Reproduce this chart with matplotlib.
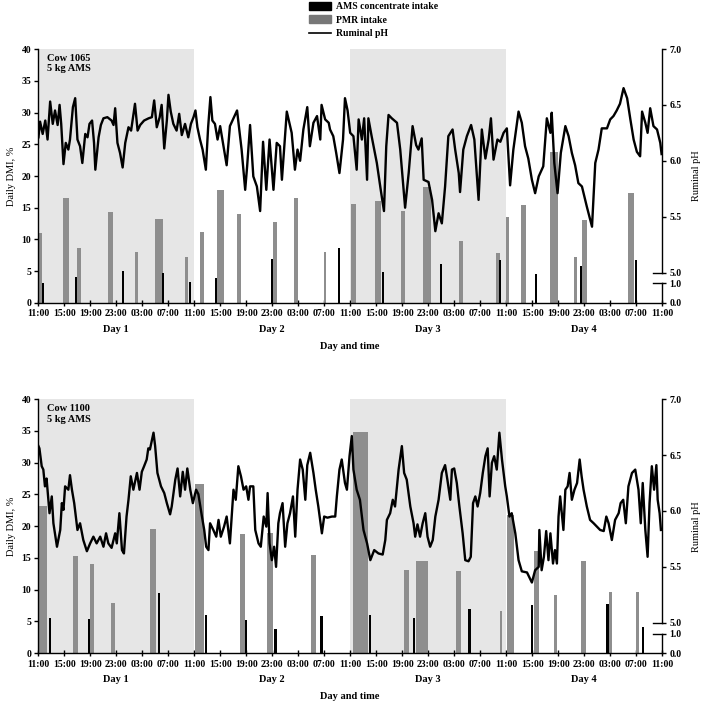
import matplotlib
matplotlib.use('Agg')
import matplotlib.pyplot as plt
from matplotlib.patches import Patch
from matplotlib.lines import Line2D

plt.rcParams['font.family'] = 'Liberation Serif'
plt.rcParams['font.weight'] = 'bold'
plt.rcParams['font.size'] = 7

# hours since 11:00 on day 1
time_labels = ['11:00', '15:00', '19:00', '23:00', '03:00', '07:00'] * 4 + ['11:00']
day_labels = ['Day 1', 'Day 2', 'Day 3', 'Day 4']
shaded = [(0, 24), (48, 72)]

# ---- cow 1065 ----
c1_pmr_start = [0.0, 3.8, 5.95, 10.7, 14.9, 18.0, 22.6, 24.9, 27.5, 30.6, 36.1, 39.3, 43.9,
                48.1, 51.8, 55.8, 59.2, 64.8, 70.5, 72.0, 74.2, 78.8, 82.5, 83.7, 90.8]
c1_pmr_end = [0.6, 4.7, 6.6, 11.5, 15.4, 19.2, 23.1, 25.5, 28.6, 31.2, 36.7, 40.0, 44.3,
              48.9, 52.7, 56.5, 60.5, 65.3, 71.1, 72.5, 75.0, 79.9, 82.9, 84.4, 91.7]
c1_pmr_val = [11.1, 16.5, 8.7, 14.3, 8.1, 13.2, 7.2, 11.2, 17.8, 14.0, 12.7, 16.6, 8.0,
              15.6, 16.1, 14.5, 18.3, 9.7, 7.8, 13.6, 15.4, 23.8, 7.3, 13.1, 17.3]
c1_ams_time = [0.8, 5.85, 13.0, 19.2, 23.4, 27.4, 35.95, 46.3, 53.1, 62.0, 71.0, 76.6, 83.5, 92.0]
c1_ams_val = [3.2, 4.1, 5.1, 4.7, 3.3, 4.0, 6.9, 8.6, 4.9, 6.1, 6.8, 4.5, 5.9, 6.8]
c1_ph_h = [0.05, 0.3, 0.7, 1.1, 1.45, 1.85, 2.25, 2.6, 3.0, 3.3, 3.55, 3.9, 4.25, 4.65, 4.9,
           5.35, 5.7, 6.05, 6.45, 6.8, 7.25, 7.6, 7.9, 8.3, 8.6, 8.8, 9.3, 9.65, 10.05, 10.65,
           11.3, 11.6, 11.85, 12.2, 12.6, 13.0, 13.4, 13.9, 14.3, 14.9, 15.3, 15.7, 16.3, 17.0,
           17.5, 17.85, 18.25, 18.7, 19.0, 19.4, 19.8, 20.05, 20.4, 20.8, 21.3, 21.7, 22.1,
           22.6, 23.1, 23.5, 23.9, 24.2, 24.5, 24.9, 25.3, 25.8, 26.15, 26.5, 26.8, 27.2, 27.6,
           28.0, 29.0, 29.5, 30.6, 31.3, 31.85, 32.15, 32.6, 33.1, 33.65, 34.15, 34.6, 35.1,
           35.6, 36.2, 36.7, 37.2, 37.5, 38.25, 39.0, 39.5, 39.9, 40.3, 40.8, 41.4, 41.8, 42.35,
           42.9, 43.4, 43.6, 44.15, 44.7, 44.9, 45.4, 45.85, 46.35, 46.9, 47.2, 47.6, 48.0,
           48.5, 49.0, 49.3, 49.8, 50.15, 50.6, 50.8, 51.3, 52.1, 52.7, 53.2, 53.55, 53.9,
           54.4, 55.2, 55.7, 56.45, 57.0, 57.6, 58.15, 58.5, 59.0, 59.3, 60.05, 60.6, 61.1,
           61.6, 62.1, 62.6, 63.1, 63.75, 64.15, 64.7, 64.9, 65.4, 65.95, 66.6, 67.1, 67.75,
           68.25, 68.8, 69.3, 69.65, 70.05, 70.65, 71.1, 71.6, 72.1, 72.6, 73.1, 73.9, 74.4,
           74.9, 75.4, 75.95, 76.45, 77.0, 77.7, 78.25, 78.8, 79.0, 79.4, 79.9, 80.4, 81.1,
           81.6, 82.1, 82.6, 83.1, 83.65, 84.4, 85.2, 85.7, 86.2, 86.7, 87.5, 88.0, 88.5,
           89.0, 89.5, 90.05, 90.6, 91.1, 91.6, 92.1, 92.6, 92.9, 93.4, 93.75, 94.15, 94.65,
           95.2, 95.7, 95.9]
c1_ph_v = [6.21, 6.35, 6.24, 6.36, 6.19, 6.53, 6.33, 6.45, 6.32, 6.50, 6.33, 5.97, 6.16, 6.10, 6.19,
           6.48, 6.56, 6.19, 6.13, 5.98, 6.24, 6.21, 6.33, 6.36, 6.16, 5.92, 6.21, 6.32, 6.38, 6.39,
           6.36, 6.32, 6.47, 6.16, 6.07, 5.94, 6.16, 6.30, 6.27, 6.51, 6.27, 6.32, 6.36, 6.38,
           6.39, 6.54, 6.30, 6.39, 6.50, 6.11, 6.36, 6.59, 6.44, 6.33, 6.27, 6.42, 6.23,
           6.33, 6.21, 6.33, 6.39, 6.45, 6.30, 6.19, 6.10, 5.92, 6.30, 6.57, 6.36, 6.33, 6.19,
           6.31, 5.96, 6.31, 6.45, 6.10, 5.74, 5.95, 6.32, 5.86, 5.77, 5.55, 6.17, 5.74,
           6.19, 5.74, 6.16, 6.13, 5.83, 6.44, 6.25, 5.92, 6.10, 6.00, 6.28, 6.48, 6.13, 6.34,
           6.40, 6.19, 6.50, 6.37, 6.34, 6.28, 6.22, 6.07, 5.89, 6.19, 6.56, 6.45, 6.25,
           6.22, 5.92, 6.37, 6.19, 6.38, 5.83, 6.38, 6.22, 5.98, 5.74, 5.55, 6.13, 6.41,
           6.38, 6.34, 6.10, 5.58, 5.89, 6.31, 6.14, 6.10, 6.20, 5.83, 5.81, 5.65, 5.37,
           5.53, 5.44, 5.77, 6.22, 6.28, 6.10, 5.89, 5.72, 6.10, 6.22, 6.32, 6.19, 5.65,
           6.28, 6.02, 6.19, 6.38, 6.01, 6.19, 6.17, 6.25, 6.29, 5.78, 6.10, 6.44, 6.34,
           6.13, 6.02, 5.83, 5.71, 5.86, 5.95, 6.38, 6.25, 6.43, 5.98, 5.71, 6.07, 6.31,
           6.22, 6.07, 5.96, 5.80, 5.77, 5.59, 5.41, 5.98, 6.10, 6.29, 6.29, 6.37, 6.40,
           6.45, 6.51, 6.65, 6.56, 6.37, 6.19, 6.08, 6.04, 6.44, 6.34, 6.25, 6.47, 6.31,
           6.28, 6.16, 6.06]

# ---- cow 1100 ----
c2_pmr_start = [0.15, 5.4, 8.0, 11.2, 17.2, 24.2, 31.0, 35.2, 42.0, 48.4, 56.3, 58.05, 64.3,
                71.1, 72.1, 76.2, 79.3, 83.5, 87.8, 91.95]
c2_pmr_end = [1.3, 6.1, 8.6, 11.8, 18.1, 25.5, 31.8, 36.2, 42.7, 50.7, 57.0, 60.0, 65.0,
              71.4, 73.2, 77.0, 79.8, 84.2, 88.3, 92.5]
c2_pmr_val = [23.2, 15.3, 14.1, 7.9, 19.6, 26.6, 18.7, 18.9, 15.4, 34.9, 13.1, 14.5, 12.9,
              6.6, 21.8, 16.1, 9.1, 14.5, 9.6, 9.6]
c2_ams_time = [1.85, 7.85, 18.6, 25.85, 32.0, 36.5, 43.6, 51.0, 57.85, 66.35, 75.95, 87.6, 93.0]
c2_ams_val = [5.6, 5.4, 9.5, 6.1, 5.2, 3.8, 5.9, 6.0, 5.6, 6.9, 7.6, 7.8, 4.2]
c2_ph_h = [0.05, 0.2, 0.55, 0.8, 1.05, 1.3, 1.75, 2.1, 2.35, 2.9, 3.4, 3.65, 3.9, 4.15, 4.65,
           4.9, 5.2, 5.55, 6.05, 6.45, 6.95, 7.5, 8.0, 8.5, 9.0, 9.55, 10.05, 10.45, 10.8, 11.3,
           11.85, 12.1, 12.5, 12.9, 13.2, 13.6, 13.9, 14.25, 14.65, 15.2, 15.6, 15.95, 16.3,
           16.7, 16.95, 17.2, 17.75, 18.0, 18.35, 18.9, 19.4, 19.8, 20.3, 20.55, 21.1, 21.45,
           21.85, 22.25, 22.6, 22.95, 23.4, 23.8, 24.3, 24.65, 25.2, 25.55, 25.85, 26.2, 26.45,
           26.95, 27.4, 27.75, 28.1, 28.6, 29.0, 29.5, 30.05, 30.4, 30.8, 31.2, 31.6, 32.0,
           32.35, 32.6, 33.1, 33.4, 33.9, 34.25, 34.7, 35.1, 35.3, 35.6, 35.95, 36.3, 36.6,
           36.95, 37.2, 37.6, 38.0, 38.35, 38.75, 39.2, 39.55, 39.9, 40.3, 40.7, 41.1, 41.4,
           41.85, 42.35, 42.7, 43.1, 43.65, 44.0, 44.5, 45.2, 45.7, 45.95, 46.35, 46.7, 47.2,
           47.5, 47.9, 48.25, 48.5, 49.0, 49.5, 50.05, 50.6, 51.1, 51.7, 52.35, 53.0, 53.4,
           53.65, 54.15, 54.55, 54.9, 55.45, 55.95, 56.3, 56.7, 57.25, 57.75, 58.0, 58.35,
           58.75, 59.15, 59.55, 59.9, 60.3, 60.7, 61.1, 61.6, 62.1, 62.6, 62.95, 63.4, 63.65,
           64.0, 64.4, 64.8, 65.3, 65.7, 66.2, 66.55, 66.9, 67.25, 67.6, 68.0, 68.4, 68.8,
           69.15, 69.45, 69.8, 70.15, 70.55, 70.95, 71.35, 71.85, 72.1, 72.5, 72.85, 73.4,
           73.9, 74.4, 75.2, 75.95, 76.45, 77.0, 77.1, 77.45, 77.8, 78.15, 78.5, 78.8, 79.2,
           79.5, 79.8, 80.05, 80.3, 80.8, 81.1, 81.45, 81.75, 82.1, 82.5, 82.9, 83.3, 83.6,
           83.9, 84.4, 84.9, 85.45, 85.95, 86.45, 87.0, 87.4, 87.75, 88.25, 88.75, 89.3, 89.6,
           90.0, 90.4, 90.8, 91.35, 91.85, 92.35, 92.7, 93.0, 93.4, 93.75, 94.05, 94.4, 94.75,
           95.1, 95.3, 95.6, 95.8]
c2_ph_v = [6.58, 6.56, 6.40, 6.37, 6.22, 6.29, 5.98, 6.13, 5.89, 5.68, 5.83, 6.07, 6.01, 6.22, 6.19,
           6.32, 6.19, 6.07, 5.83, 5.89, 5.74, 5.64, 5.71, 5.77, 5.71, 5.77, 5.68, 5.80, 5.71, 5.67,
           5.80, 5.71, 5.98, 5.65, 5.62, 5.95, 6.10, 6.31, 6.19, 6.34, 6.19, 6.35, 6.40,
           6.46, 6.56, 6.55, 6.70, 6.58, 6.34, 6.22, 6.16, 6.07, 5.97, 6.04, 6.28, 6.38,
           6.13, 6.35, 6.19, 6.38, 6.19, 6.07, 6.19, 6.15, 5.95, 5.83, 5.68, 5.65, 5.89,
           5.83, 5.77, 5.92, 5.77, 5.86, 5.95, 5.71, 6.19, 6.10, 6.40, 6.31, 6.19, 6.22,
           6.10, 6.22, 6.22, 5.83, 5.71, 5.68, 5.95, 5.86, 6.16, 5.71, 5.56, 5.68, 5.50,
           5.89, 5.98, 6.07, 5.68, 5.89, 5.98, 6.13, 5.77, 6.19, 6.46, 6.37, 6.10, 6.41,
           6.52, 6.34, 6.19, 6.04, 5.80, 5.95, 5.94, 5.95, 5.95, 6.13, 6.37, 6.46, 6.25,
           6.19, 6.49, 6.67, 6.37, 6.19, 6.10, 5.83, 5.71, 5.56, 5.65, 5.62, 5.61, 5.74,
           5.92, 5.98, 6.10, 6.04, 6.37, 6.58, 6.34, 6.28, 6.04, 5.89, 5.77, 5.88,
           5.77, 5.89, 5.98, 5.77, 5.68, 5.74, 5.95, 6.10, 6.34, 6.41, 6.28, 6.10, 6.37,
           6.38, 6.25, 6.04, 5.80, 5.56, 5.55, 5.59, 6.07, 6.13, 6.04, 6.16, 6.34, 6.49,
           6.56, 6.13, 6.43, 6.49, 6.37, 6.70, 6.46, 6.22, 6.13, 5.95, 5.98, 5.80,
           5.56, 5.46, 5.45, 5.36, 5.47, 5.50, 5.83, 5.47, 5.59, 5.82, 5.56, 5.80, 5.53,
           5.65, 5.53, 5.95, 6.13, 5.83, 6.19, 6.22, 6.34, 6.10, 6.19, 6.25, 6.46, 6.31,
           6.19, 6.04, 5.92, 5.89, 5.86, 5.83, 5.82, 5.95, 5.89, 5.74, 5.92, 5.98, 6.07,
           6.10, 5.89, 6.22, 6.34, 6.37, 6.19, 5.89, 6.25, 5.83, 5.59, 6.07, 6.40, 6.19,
           6.41, 6.10, 5.98, 5.83]

ph_ticks = [7.0, 6.5, 6.0, 5.5, 5.0, 1.0, 0.0]


def ph_to_left(v):
    # pH 5.0-7.0 occupies the upper part of the 0-40 DMI scale; below 5 the axis is broken
    out = []
    for p in v:
        if p >= 5.0:
            out.append(40 - (7.0 - p) * 17.6)
        else:
            out.append(p * 3.1)
    return out


def draw_panel(ax, title, pmr_start, pmr_end, pmr_val, ams_time, ams_val, ph_h, ph_v):
    for a, b in shaded:
        ax.axvspan(a, b, color='#e6e6e6', lw=0, zorder=0)
    widths = [e - s for s, e in zip(pmr_start, pmr_end)]
    ax.bar(pmr_start, pmr_val, width=widths, align='edge', color='#8e8e8e', lw=0, zorder=2)
    ax.bar(ams_time, ams_val, width=0.35, color='black', lw=0, zorder=3)
    ax.plot(ph_h, ph_to_left(ph_v), color='black', lw=1.7, zorder=4)

    ax.set_xlim(0, 96)
    ax.set_ylim(0, 40)
    ax.set_xticks(range(0, 97, 4))
    ax.set_xticklabels(time_labels)
    ax.set_yticks(range(0, 41, 5))
    ax.tick_params(axis='x', direction='inout', length=5, width=1, pad=2)
    ax.tick_params(axis='y', direction='out', length=3, width=1, pad=2)
    for s in ['top', 'right']:
        ax.spines[s].set_visible(False)
    for s in ['left', 'bottom']:
        ax.spines[s].set_linewidth(1)
    ax.set_ylabel('Daily DMI, %', fontsize=7.5, labelpad=4)
    ax.text(1.3, 39.2, title, va='top', ha='left', fontsize=7.5)
    for i, d in enumerate(day_labels):
        ax.text(12 + 24 * i, -0.105, d, transform=ax.get_xaxis_transform(),
                ha='center', va='center', fontsize=7.5)
    ax.text(0.5, -0.172, 'Day and time', transform=ax.transAxes,
            ha='center', va='center', fontsize=7.5)

    ax2 = ax.twinx()
    ax2.set_ylim(0, 40)
    ax2.set_yticks(ph_to_left(ph_ticks))
    ax2.set_yticklabels(['%.1f' % t for t in ph_ticks])
    ax2.tick_params(axis='y', direction='out', length=3, width=1, pad=2)
    for s in ['top', 'left', 'bottom']:
        ax2.spines[s].set_visible(False)
    top_part = ph_to_left([5.0])[0]
    low_part = ph_to_left([1.0])[0]
    ax2.spines['right'].set_bounds(top_part, 40)
    ax2.spines['right'].set_linewidth(1)
    tr = ax2.get_yaxis_transform()
    ax2.plot([1, 1], [0, low_part], color='black', lw=1, transform=tr, clip_on=False)
    for y in [top_part, low_part]:
        ax2.plot([0.986, 1.0], [y, y], color='black', lw=1, transform=tr, clip_on=False)
    ax2.set_ylabel('Ruminal pH', fontsize=7.5, labelpad=8)
    return ax2


fig = plt.figure(figsize=(7.06, 7.24), dpi=100)
ax_a = fig.add_axes([0.054, 0.5815, 0.884, 0.3508])
ax_b = fig.add_axes([0.054, 0.0977, 0.884, 0.351])
draw_panel(ax_a, 'Cow 1065\n5 kg AMS', c1_pmr_start, c1_pmr_end, c1_pmr_val,
           c1_ams_time, c1_ams_val, c1_ph_h, c1_ph_v)
draw_panel(ax_b, 'Cow 1100\n5 kg AMS', c2_pmr_start, c2_pmr_end, c2_pmr_val,
           c2_ams_time, c2_ams_val, c2_ph_h, c2_ph_v)

handles = [Patch(color='black'), Patch(color='#777777'), Line2D([], [], color='black', lw=1.2)]
fig.legend(handles, ['AMS concentrate intake', 'PMR intake', 'Ruminal pH'],
           loc='upper left', bbox_to_anchor=(0.425, 1.01), frameon=False, fontsize=7,
           handlelength=2.3, handleheight=0.9, labelspacing=0.45, handletextpad=0.5)

fig.savefig('out.png', dpi=100)
